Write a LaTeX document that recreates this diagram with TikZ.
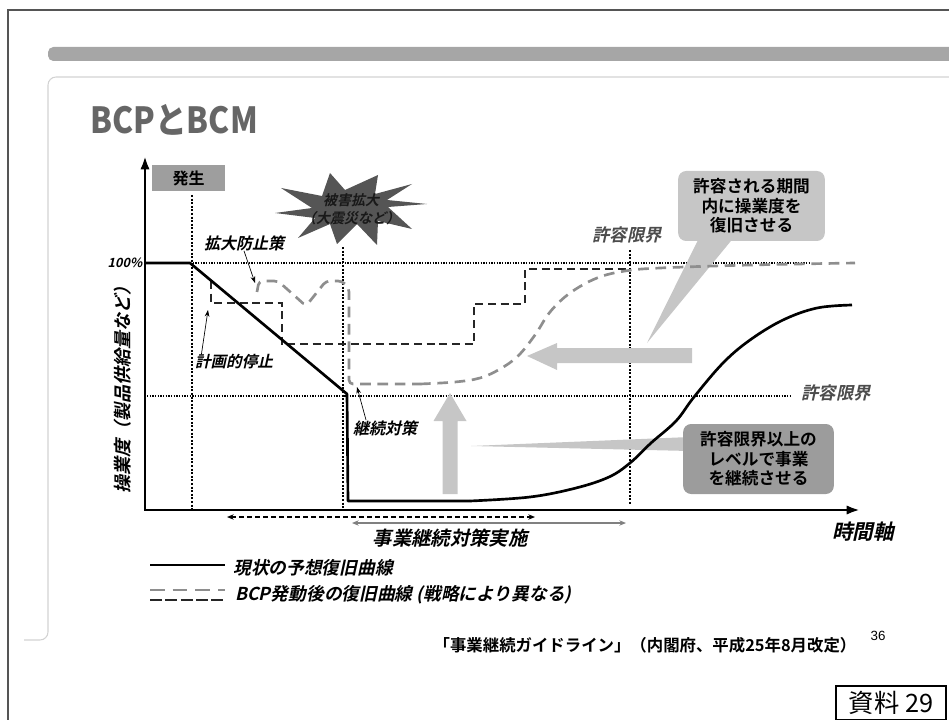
\documentclass[tikz,border=0pt]{standalone}
\usepackage{fontspec}
\setmainfont{Liberation Sans}
\newfontfamily\jp{Noto Sans CJK JP}
\newfontfamily\jpb{Noto Sans CJK JP}[UprightFont=* Bold]
\newfontfamily\jpt{Noto Sans CJK JP}[UprightFont=* Black,FakeStretch=0.88]
\newfontfamily\jpi{Noto Sans CJK JP}[UprightFont=* Bold,FakeSlant=0.22]
\usetikzlibrary{arrows.meta}
\definecolor{framegray}{HTML}{555555}
\definecolor{bargray}{HTML}{A6A6A6}
\definecolor{panelgray}{HTML}{D2D2D2}
\definecolor{titlegray}{HTML}{666666}
\definecolor{boxgray}{HTML}{9E9E9E}
\definecolor{stargray}{HTML}{555555}
\definecolor{softgray}{HTML}{C6C6C6}
\definecolor{darkbox}{HTML}{9C9C9C}
\definecolor{bcpgray}{HTML}{8E8E8E}
\tikzset{
  tag/.style={inner sep=0pt, font=\jpi\fontsize{12}{14}\selectfont},
  limit/.style={inner sep=0pt, text=black!70, font=\jpi\fontsize{13}{15}\selectfont},
  pointer/.style={-{Stealth[length=5pt,width=3.5pt]}, line width=0.5pt},
  guide/.style={line width=1pt, dash pattern=on 1pt off 1pt},
  vguide/.style={line width=1.5pt, dash pattern=on 1.5pt off 1.2pt},
  nowcurve/.style={line width=2pt, line join=round},
  bcpcurve/.style={bcpgray, line width=2pt, dash pattern=on 8pt off 5pt},
  plancurve/.style={black!85, line width=1.6pt, dash pattern=on 6pt off 3.5pt},
  callout/.style={rounded corners=6pt, align=center, minimum height=52.5pt,
    font=\jpb\fontsize{12.5}{14.6}\selectfont}
}
\begin{document}
\begin{tikzpicture}[x=0.75pt,y=-0.75pt]
    \useasboundingbox (0,0) rectangle (949,720);
    % slide frame, header bar and panel
    \draw[framegray, line width=1.1pt] (8,720) -- (8,10) -- (949,10);
    \fill[bargray, rounded corners=4pt] (48,47) rectangle (975,61);
    \draw[panelgray, line width=0.8pt, rounded corners=6pt] (975,77) -- (48,77) -- (48,640) -- (24,640);
    \node[anchor=west, inner sep=0pt, text=titlegray, font=\jpt\fontsize{27}{30}\selectfont] (title) at (90,120) {BCPとBCM};

    % guide lines
    \draw[guide] (190,263) -- (810,263);
    \draw[guide] (147,396) -- (791,396);
    \draw[vguide] (192,195) -- (192,509);
    \draw[vguide] (343,247) -- (343,509);
    \draw[vguide] (630,250) -- (630,505);

    % axes
    \draw[line width=2pt, {Latex[length=10pt,width=7pt]}-{Latex[length=10pt,width=7pt]}] (145,156) -- (145,510) -- (860,510);

    % big gray arrows and callouts
    \fill[softgray] (442.5,494) -- (442.5,421) -- (433.5,421) -- (450,393) -- (466.5,421) -- (457.5,421) -- (457.5,494) -- cycle;
    \fill[softgray] (692,348) -- (557,348) -- (557,343) -- (527,356) -- (557,370) -- (557,363) -- (692,363) -- cycle;
    \coordinate (recovertip) at (647,343);
    \coordinate (keeptip) at (471,446);
    \fill[softgray] (700,236) -- (recovertip) -- (735,236) -- cycle;
    \fill[softgray] (690,437) -- (keeptip) -- (690,451) -- cycle;
    \node[callout, fill=softgray, minimum width=110pt] (recover) at (751.5,206) {許容される期間\\内に操業度を\\復旧させる};
    \node[callout, fill=darkbox, minimum width=113pt] (keep) at (758.5,459) {許容限界以上の\\レベルで事業\\を継続させる};

    % recovery curves
    \draw[plancurve] (211,281) -- (211,303) -- (282,303) -- (282,344) -- (474,344) -- (474,304) -- (525,304) -- (525,269) -- (628,269);
    \draw[bcpcurve, rounded corners=3pt] (257,292) -- (259,281) -- (278,281) -- (306,306) -- (326,281) -- (342,281) -- (349,288) -- (349,384) -- (420,384);
    \draw[bcpcurve] plot[smooth, tension=0.6] coordinates {(420,384) (455,382) (480,378) (500,369) (518,356) (535,335) (550,312) (570,293) (597,278) (625,271) (660,268) (750,265) (855,263)};
    \draw[nowcurve] (145,263) -- (190,263) -- (347,394) -- (348,501) -- (470,501);
    \draw[nowcurve] plot[smooth, tension=0.6] coordinates {(470,501) (530,497) (576,488) (609,477) (630,463) (651,443) (676,421) (694,397) (723,363) (750,340) (783,320) (817,308) (852,305)};

    % event marks
    \node[fill=boxgray, minimum width=54.75pt, minimum height=19.5pt, inner sep=0pt, font=\jpb\fontsize{12}{14}\selectfont] (occur) at (188.5,178) {発生};
    \fill[stargray] (427,204) -- (388,207) -- (412,229) -- (378,221) -- (377,245) -- (357,224) -- (337,244) -- (330,224) -- (298,238) -- (315,218) -- (275,213) -- (312,208) -- (281,188) -- (322,196) -- (330,173) -- (345,190) -- (378,175) -- (375,194) -- (412,184) -- (387,200) -- cycle;
    \node[align=center, inner sep=0pt, text=black!90, font=\jpi\fontsize{10.5}{13.5}\selectfont] (spread) at (351,209) {被害拡大\\（大震災など）};

    % labels with pointers
    \node[tag] (guard) at (244,243) {拡大防止策};
    \coordinate (guardend) at (255,283);
    \draw[pointer] (guard.south) -- (guardend);
    \node[tag, font=\jpi\fontsize{11.7}{14}\selectfont] (stop) at (234,362) {計画的停止};
    \coordinate (stopend) at (208,310);
    \draw[pointer] ([xshift=5pt]stop.north west) -- (stopend);
    \node[tag] (cont) at (385,428) {継続対策};
    \coordinate (contend) at (357,387);
    \draw[pointer] ([xshift=10pt]cont.north west) -- (contend);

    % axis texts
    \node[tag, font=\jpi\fontsize{9.5}{11}\selectfont] (full) at (125,263) {100\%};
    \node[limit] (limtop) at (627,235) {許容限界};
    \node[limit] (limlow) at (836,393) {許容限界};
    \node[tag, rotate=90, font=\jpi\fontsize{13.5}{15}\selectfont] (ylabel) at (123,385) {操業度（製品供給量など）};
    \node[tag, font=\jpi\fontsize{15.5}{18}\selectfont] (xlabel) at (863,532) {時間軸};

    % period of the measures
    \coordinate (planl) at (227,517);
    \coordinate (planr) at (535,517);
    \coordinate (actl) at (352,523);
    \coordinate (actr) at (626,523);
    \draw[line width=1pt, dash pattern=on 4pt off 2pt, {Stealth[length=5pt,width=4pt]}-{Stealth[length=5pt,width=4pt]}] (planl) -- (planr);
    \draw[gray, line width=1.1pt, {Stealth[length=5pt,width=4pt]}-{Stealth[length=5pt,width=4pt]}] (actl) -- (actr);
    \node[tag, font=\jpi\fontsize{14.5}{17}\selectfont] (period) at (450,538) {事業継続対策実施};

    % legend
    \draw[line width=2.2pt] (150,565) -- (225,565);
    \draw[bcpgray, line width=2pt, dash pattern=on 11pt off 6pt] (150,590) -- (225,590);
    \draw[black!85, line width=2pt, dash pattern=on 9pt off 2.5pt] (150,600) -- (225,600);
    \node[tag, anchor=west, font=\jpi\fontsize{13.3}{15}\selectfont] (leg1) at (233,568) {現状の予想復旧曲線};
    \node[tag, anchor=west, font=\jpi\fontsize{13.3}{15}\selectfont] (leg2) at (235,595) {BCP発動後の復旧曲線 (戦略により異なる)};

    % source and page
    \node[inner sep=0pt, font=\jpb\fontsize{12.3}{14}\selectfont] (source) at (645,645) {「事業継続ガイドライン」（内閣府、平成25年8月改定）};
    \node[inner sep=0pt, font=\fontsize{10}{12}\selectfont] (page) at (878,636) {36};
    \node[draw, line width=0.8pt, minimum width=82.5pt, minimum height=25.5pt, inner sep=0pt, font=\jp\fontsize{19}{22}\selectfont] (docno) at (891,703) {資料 29};
\end{tikzpicture}
\end{document}
